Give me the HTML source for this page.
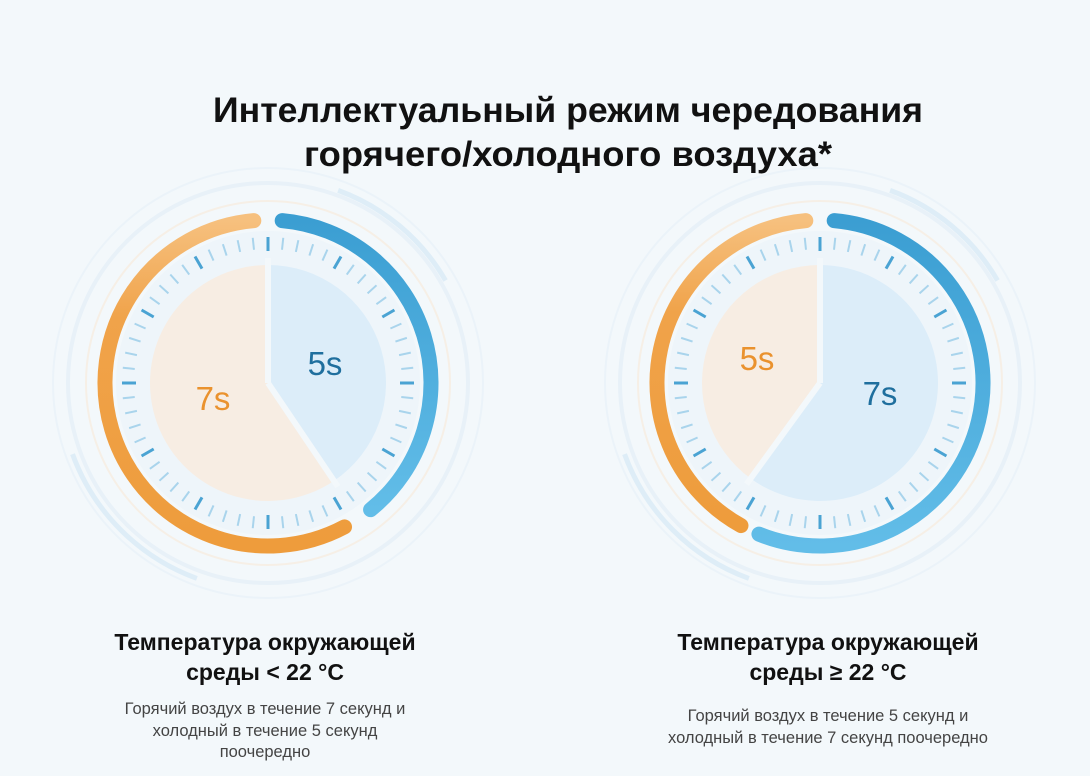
<!DOCTYPE html>
<html><head><meta charset="utf-8"><style>
html,body{margin:0;padding:0;width:1090px;height:776px;overflow:hidden;background:#f3f8fb;font-family:"Liberation Sans",sans-serif;}
svg{position:absolute;left:0;top:0}
</style></head><body>
<svg id="s" width="1090" height="776" viewBox="0 0 1090 776">
<defs>
<linearGradient id="og" x1="0" y1="0" x2="0" y2="1"><stop offset="0" stop-color="#f6c07e"/><stop offset="0.3" stop-color="#f0a34a"/><stop offset="1" stop-color="#ee9c3c"/></linearGradient>
<linearGradient id="bg" x1="0" y1="0" x2="0" y2="1"><stop offset="0" stop-color="#3b9ed2"/><stop offset="1" stop-color="#62bde8"/></linearGradient>
</defs>
<g id="g"></g>
<text x="568" y="122" text-anchor="middle" font-size="35" font-weight="bold" fill="#111" textLength="710" lengthAdjust="spacingAndGlyphs">Интеллектуальный режим чередования</text>
<text x="568" y="166" text-anchor="middle" font-size="35" font-weight="bold" fill="#111" textLength="528" lengthAdjust="spacingAndGlyphs">горячего/холодного воздуха*</text>
<text x="325" y="375" text-anchor="middle" font-size="33" fill="#1f6f9e">5s</text>
<text x="213" y="410" text-anchor="middle" font-size="33" fill="#ea922e">7s</text>
<text x="757" y="370" text-anchor="middle" font-size="33" fill="#ea922e">5s</text>
<text x="880" y="405" text-anchor="middle" font-size="33" fill="#1f6f9e">7s</text>
<g font-size="23" font-weight="bold" fill="#111" text-anchor="middle">
<text x="265" y="650">Температура окружающей</text>
<text x="265" y="680">среды &lt; 22 °C</text>
<text x="828" y="650">Температура окружающей</text>
<text x="828" y="680">среды ≥ 22 °C</text>
</g>
<g font-size="16.5" fill="#444" text-anchor="middle">
<text x="265" y="714">Горячий воздух в течение 7 секунд и</text>
<text x="265" y="736">холодный в течение 5 секунд</text>
<text x="265" y="757">поочередно</text>
<text x="828" y="721">Горячий воздух в течение 5 секунд и</text>
<text x="828" y="743">холодный в течение 7 секунд поочередно</text>
</g>
</svg>
<script>
var g=document.getElementById('g'),NS='http://www.w3.org/2000/svg';
function el(t,a){var e=document.createElementNS(NS,t);for(var k in a)e.setAttribute(k,a[k]);g.appendChild(e);return e;}
function pt(cx,cy,r,a){a=a*Math.PI/180;return [cx+r*Math.sin(a),cy-r*Math.cos(a)];}
function arc(cx,cy,r,a1,a2){var p=pt(cx,cy,r,a1),q=pt(cx,cy,r,a2);return 'M'+p[0]+' '+p[1]+' A'+r+' '+r+' 0 '+((a2-a1)>180?1:0)+' 1 '+q[0]+' '+q[1];}
function wedge(cx,cy,r,a1,a2){return arc(cx,cy,r,a1,a2).replace('M','M'+cx+' '+cy+' L')+' Z';}
function gauge(cx,cy,split,oa1,oa2,ba1,ba2){
 el('circle',{cx:cx,cy:cy,r:215,fill:'none',stroke:'#ebf3f9','stroke-width':2});
 el('circle',{cx:cx,cy:cy,r:200,fill:'none',stroke:'#e8f1f8','stroke-width':4});
 el('circle',{cx:cx,cy:cy,r:182,fill:'none',stroke:'#f6efe6','stroke-width':2});
 el('path',{d:arc(cx,cy,208,200,250),fill:'none',stroke:'#deedf7','stroke-width':5});
 el('path',{d:arc(cx,cy,205,20,60),fill:'none',stroke:'#deedf7','stroke-width':5});
 el('circle',{cx:cx,cy:cy,r:152,fill:'#eef5fa'});
 el('path',{d:wedge(cx,cy,118,0,split),fill:'#dcedf9'});
 el('path',{d:wedge(cx,cy,118,split,360),fill:'#f7ede3'});
 var p=pt(cx,cy,125,split);el('line',{x1:cx,y1:cy,x2:p[0],y2:p[1],stroke:'#f3f8fb','stroke-width':6});
 el('line',{x1:cx,y1:cy,x2:cx,y2:cy-125,stroke:'#f3f8fb','stroke-width':6});
 for(var i=0;i<60;i++){var a=i*6,big=i%5==0,r1=big?132:134,r2=146;var u=pt(cx,cy,r1,a),v=pt(cx,cy,r2,a);
  el('line',{x1:u[0],y1:u[1],x2:v[0],y2:v[1],stroke:big?'#4aa3d3':'#a9d4ec','stroke-width':big?3:2});}
 el('path',{d:arc(cx,cy,163,oa1,oa2),fill:'none',stroke:'url(#og)','stroke-width':15,'stroke-linecap':'round'});
 el('path',{d:arc(cx,cy,163,ba1,ba2),fill:'none',stroke:'url(#bg)','stroke-width':15,'stroke-linecap':'round'});
}
gauge(268,383,146,152,355,5,141);
gauge(820,383,216,209,355,5,202);
</script>
</body></html>
